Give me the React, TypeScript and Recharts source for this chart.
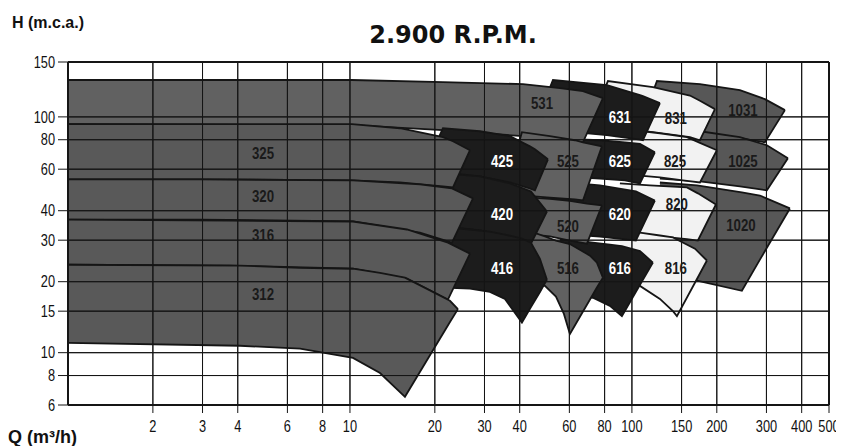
import React from 'react';
import { ComposedChart, Area, Scatter, XAxis, YAxis, ReferenceLine } from 'recharts';

// Axis ticks
const Q_TICKS = [2, 3, 4, 6, 8, 10, 20, 30, 40, 60, 80, 100, 150, 200, 300, 400, 500];
const H_TICKS = [6, 8, 10, 15, 20, 30, 40, 60, 80, 100, 150];
const Q_GRID = [2, 3, 4, 6, 8, 10, 20, 30, 40, 60, 80, 100, 150, 200, 300, 400];
const H_GRID = [8, 10, 15, 20, 30, 40, 60, 80, 100];
const Q_RANGE = [1, 500];
const H_RANGE = [6, 150];

// Pump tiles: [Q (m3/h), H lower (m), H upper (m)]
const T1031 = [[115.8, 113.2, 113.2], [122.7, 86.9, 130.3], [174.3, 84.4, 127.4], [241.5, 81.2, 121.9], [296.2, 78.0, 114.0], [348.9, 105.1, 105.1]];
const T1025 = [[125.7, 54.8, 89.5], [174.3, 53.3, 86.9], [241.5, 50.7, 82.0], [301.1, 48.8, 75.8], [357.5, 66.7, 66.7]];
const T1020 = [[125.7, 21.8, 52.7], [170.1, 20.2, 51.2], [245.5, 18.3, 47.8], [284.4, 24.8, 46.4], [363.4, 40.9, 40.9]];
const T831 = [[77.0, 113.2, 113.2], [82.21, 90.4, 130.3], [118.7, 86.1, 124.6], [160.6, 82.0, 117.1], [174.3, 79.6, 112.7], [197.0, 105.9, 105.9]];
const T825 = [[87.04, 57.0, 89.5], [109.4, 56.2, 86.9], [125.7, 55.4, 85.2], [156.7, 53.5, 82.0], [174.3, 52.7, 77.6], [200.2, 72.2, 72.2]];
const T820 = [[90.66, 32.3, 52.2], [115.8, 31.4, 51.2], [156.7, 30.3, 50.2], [171.4, 29.9, 47.4], [198.6, 42.5, 42.5]];
const T816 = [[90.66, 20.2, 33.0], [106.8, 19.2, 32.3], [125.7, 16.9, 31.4], [139.8, 15.0, 30.8], [144.4, 14.3, 30.2], [167.3, 19.8, 27.6], [184.5, 24.6, 24.6]];
const T631 = [[49.15, 113.2, 113.2], [52.48, 87.8, 131.3], [81.53, 83.6, 126.5], [106.8, 80.0, 117.5], [109.4, 79.6, 116.6], [125.7, 110.7, 110.7]];
const T625 = [[49.15, 56.5, 81.2], [77.0, 54.8, 79.6], [94.45, 53.8, 78.0], [106.8, 52.2, 76.9], [120.6, 70.7, 70.7]];
const T620 = [[49.15, 32.3, 53.8], [77.0, 31.1, 51.2], [103.3, 29.9, 48.3], [120.6, 44.2, 44.2]];
const T616 = [[55.54, 17.9, 30.5], [72.72, 17.1, 29.3], [83.56, 15.8, 28.7], [92.15, 14.3, 28.3], [106.8, 19.4, 27.0], [118.7, 24.1, 24.1]];
const T531 = [[1, 93.1, 131.3], [10.16, 92.2, 131.3], [21.37, 87.8, 129.3], [41.07, 82.8, 127.4], [55.54, 80.4, 123.7], [67.03, 78.0, 121.0], [78.92, 114.9, 114.9]];
const T525 = [[35.45, 47.8, 47.8], [40.73, 46.4, 86.1], [51.2, 45.5, 82.8], [62.79, 44.7, 79.6], [67.03, 44.2, 78.0], [78.27, 75.0, 75.0]];
const T520 = [[38.47, 32.3, 46.0], [51.2, 31.1, 44.9], [60.27, 29.9, 44.0], [69.26, 29.0, 42.9], [78.27, 42.1, 42.1]];
const T516 = [[41.75, 19.4, 32.3], [46.04, 19.4, 32.0], [49.15, 19.2, 31.1], [53.78, 17.3, 29.9], [57.39, 14.6, 29.3], [60.27, 12.0, 28.9], [71.0, 16.8, 25.8], [75.13, 18.9, 24.1], [78.92, 20.8, 20.8]];
const T425 = [[19.54, 70.7, 70.7], [21.37, 58.2, 89.5], [28.91, 55.9, 86.9], [36.93, 52.7, 82.8], [43.49, 49.7, 75.0], [45.29, 48.8, 72.9], [50.37, 66.1, 66.1]];
const T420 = [[19.22, 34.9, 58.2], [28.91, 33.0, 55.9], [36.93, 31.1, 52.2], [43.84, 29.0, 48.3], [49.96, 39.7, 39.7]];
const T416 = [[18.45, 19.0, 34.6], [26.65, 18.7, 33.3], [31.37, 18.1, 32.6], [35.45, 16.9, 31.7], [40.73, 13.4, 30.5], [43.84, 15.6, 29.3], [47.19, 18.1, 25.0], [49.96, 20.4, 20.4]];
const T325 = [[1, 54.3, 93.1], [2.94, 54.3, 93.1], [10.16, 53.8, 93.1], [15.04, 52.7, 89.5], [21.37, 50.7, 82.0], [23.19, 50.2, 78.8], [26.65, 72.2, 72.2]];
const T320 = [[1, 36.7, 54.3], [2.94, 36.7, 54.3], [10.25, 36.0, 53.8], [17.71, 32.3, 51.7], [23.0, 29.3, 49.7], [27.31, 45.1, 45.1]];
const T316 = [[1, 23.6, 36.7], [3.754, 23.4, 36.3], [10.25, 22.7, 36.0], [15.93, 20.6, 33.3], [22.26, 16.8, 29.3], [26.65, 26.3, 26.3]];
const T312 = [[1, 11.0, 23.6], [4.073, 10.7, 23.4], [6.648, 10.4, 22.9], [10.25, 9.5, 22.7], [12.78, 8.2, 21.8], [15.67, 6.5, 20.8], [22.63, 13.5, 16.6], [24.15, 15.3, 15.3]];

// Model labels
const LABEL_NAMES = ['531', '631', '831', '1031', '325', '425', '525', '625', '825', '1025', '320', '420', '520', '620', '820', '1020', '316', '416', '516', '616', '816', '312'];
const LABEL_Q = [47.96, 90.66, 143.2, 247.5, 4.915, 34.6, 59.3, 90.66, 142.1, 247.5, 4.915, 34.6, 59.3, 90.66, 144.4, 243.5, 4.915, 34.6, 59.3, 90.66, 143.2, 4.915];
const LABEL_H = [110.7, 99.7, 98.7, 105.1, 70.7, 65.4, 65.4, 65.4, 65.4, 65.4, 46.4, 38.9, 34.6, 38.9, 42.9, 34.9, 31.7, 22.9, 22.9, 22.9, 22.9, 17.8];

// drawing order: right families first, left families on top
const TILES: [string, number[][]][] = [
  ['1031', T1031], ['1025', T1025], ['1020', T1020],
  ['831', T831], ['825', T825], ['820', T820], ['816', T816],
  ['631', T631], ['625', T625], ['620', T620], ['616', T616],
  ['531', T531], ['525', T525], ['520', T520], ['516', T516],
  ['425', T425], ['420', T420], ['416', T416],
  ['325', T325], ['320', T320], ['316', T316], ['312', T312],
];

const familyOf = (name: string) => (name.length === 4 ? '10' : name[0]);
const FAMILY_FILL: Record<string, string> = {
  '3': '#595959', '4': '#1c1c1c', '5': '#616161', '6': '#1c1c1c', '8': '#f2f2f2', '10': '#575757',
};

// The chart's H axis: logarithmic, with the 100-150 segment drawn wider than the rest
const STRETCH = 1.3217;
function headScale(dom: number[] = [6, 150], rng: number[] = [0, 1]): any {
  let domain = dom.slice();
  let range = rng.slice();
  const u = (v: number) => {
    const l = Math.log10(v);
    return l <= 2 ? l : 2 + (l - 2) * STRETCH;
  };
  const s: any = (v: number) => {
    const u0 = u(domain[0]);
    const u1 = u(domain[1]);
    return range[0] + ((u(Number(v)) - u0) / (u1 - u0)) * (range[1] - range[0]);
  };
  s.domain = (d?: any[]) => {
    if (d === undefined) return domain.slice();
    domain = d.map(Number);
    return s;
  };
  s.range = (r?: any[]) => {
    if (r === undefined) return range.slice();
    range = r.map(Number);
    return s;
  };
  s.invert = (px: number) => {
    const u0 = u(domain[0]);
    const u1 = u(domain[1]);
    const uu = u0 + ((px - range[0]) / (range[1] - range[0])) * (u1 - u0);
    const l = uu <= 2 ? uu : 2 + (uu - 2) / STRETCH;
    return Math.pow(10, l);
  };
  s.copy = () => headScale(domain, range);
  s.ticks = () => H_TICKS.slice();
  s.tickFormat = () => (v: any) => String(v);
  s.clamp = () => s;
  return s;
}
const Y_SCALE = headScale();

const SANS = "'Liberation Sans',Arial,sans-serif";
const LINE = '#151515';

const XTick = (props: any) => {
  const { x, y, payload } = props;
  return (
    <g transform={`translate(${x},${y}) scale(0.8,1)`}>
      <text x={0} y={0} dy="0.71em" textAnchor="middle" fontSize={16} fontFamily={SANS} fill="#111">
        {payload.value}
      </text>
    </g>
  );
};

const YTick = (props: any) => {
  const { x, y, payload } = props;
  return (
    <g transform={`translate(${x},${y}) scale(0.8,1)`}>
      <text x={0} y={0} dy="0.355em" textAnchor="end" fontSize={16} fontFamily={SANS} fill="#111">
        {payload.value}
      </text>
    </g>
  );
};

const renderLabel = (props: any) => {
  const { cx, cy, payload } = props;
  if (cx == null || cy == null) return <g />;
  const fam = familyOf(payload.name);
  const white = fam === '4' || fam === '6';
  return (
    <g transform={`translate(${cx},${cy}) scale(0.78,1)`}>
      <text
        x={0}
        y={0}
        textAnchor="middle"
        dominantBaseline="central"
        fill={white ? '#ffffff' : '#1a1a1a'}
        fontSize={17}
        fontWeight="bold"
        fontFamily={SANS}
      >
        {payload.name}
      </text>
    </g>
  );
};

export default function App() {
  const labelData = LABEL_NAMES.map((name, i) => ({ name, q: LABEL_Q[i], h: LABEL_H[i] }));
  // grid lines as zero-width range areas so they sit above the filled tiles
  const gridSeries = [
    ...Q_GRID.map((v) => ({ key: 'gx' + v, data: [{ q: v, h: [H_RANGE[0], H_RANGE[0]] }, { q: v, h: [H_RANGE[1], H_RANGE[1]] }] })),
    ...H_GRID.map((v) => ({ key: 'gy' + v, data: [{ q: Q_RANGE[0], h: [v, v] }, { q: Q_RANGE[1], h: [v, v] }] })),
  ];
  return (
    <div style={{ position: 'relative', width: 836, height: 438 }}>
      <ComposedChart width={836} height={430} margin={{ top: 54, right: 15, bottom: 0, left: 0 }}>
        <XAxis
          dataKey="q"
          type="number"
          scale="log"
          domain={Q_RANGE}
          allowDataOverflow
          ticks={Q_TICKS}
          interval={0}
          height={33}
          tickSize={8}
          tickMargin={8}
          axisLine={{ stroke: LINE, strokeWidth: 2 }}
          tickLine={{ stroke: LINE, strokeWidth: 1 }}
          tick={<XTick />}
        />
        <YAxis
          type="number"
          scale={Y_SCALE}
          domain={H_RANGE}
          allowDataOverflow
          ticks={H_TICKS}
          interval={0}
          width={60}
          tickSize={10}
          tickMargin={3}
          axisLine={{ stroke: LINE, strokeWidth: 2 }}
          tickLine={{ stroke: LINE, strokeWidth: 1 }}
          tick={<YTick />}
        />
        {TILES.map(([name, pts]) => (
          <Area
            key={name}
            data={pts.map(([q, lo, hi]) => ({ q, h: [lo, hi] }))}
            dataKey="h"
            type="linear"
            fill={FAMILY_FILL[familyOf(name)]}
            fillOpacity={1}
            stroke={LINE}
            strokeWidth={1.8}
            dot={false}
            activeDot={false}
            isAnimationActive={false}
          />
        ))}
        {gridSeries.map((g) => (
          <Area
            key={g.key}
            data={g.data}
            dataKey="h"
            type="linear"
            fill="none"
            stroke={LINE}
            strokeWidth={1}
            dot={false}
            activeDot={false}
            isAnimationActive={false}
          />
        ))}
        <ReferenceLine y={150} stroke={LINE} strokeWidth={2} ifOverflow="visible" />
        <ReferenceLine x={500} stroke={LINE} strokeWidth={2} ifOverflow="visible" />
        <Scatter data={labelData} dataKey="h" shape={renderLabel} isAnimationActive={false} />
      </ComposedChart>
      <svg
        width={836}
        height={438}
        style={{ position: 'absolute', left: 0, top: 0, pointerEvents: 'none' }}
      >
        <text x={4} y={20} fontSize={16} fontWeight="bold" fontFamily={SANS} fill="#111">
          H (m.c.a.)
        </text>
        <text x={445} y={35} textAnchor="middle" fontSize={24} fontWeight="bold" fontFamily="'DejaVu Sans',sans-serif" fill="#111">
          2.900 R.P.M.
        </text>
        <text x={0} y={435} fontSize={18} fontWeight="bold" fontFamily={SANS} fill="#111">
          Q (m³/h)
        </text>
      </svg>
    </div>
  );
}
